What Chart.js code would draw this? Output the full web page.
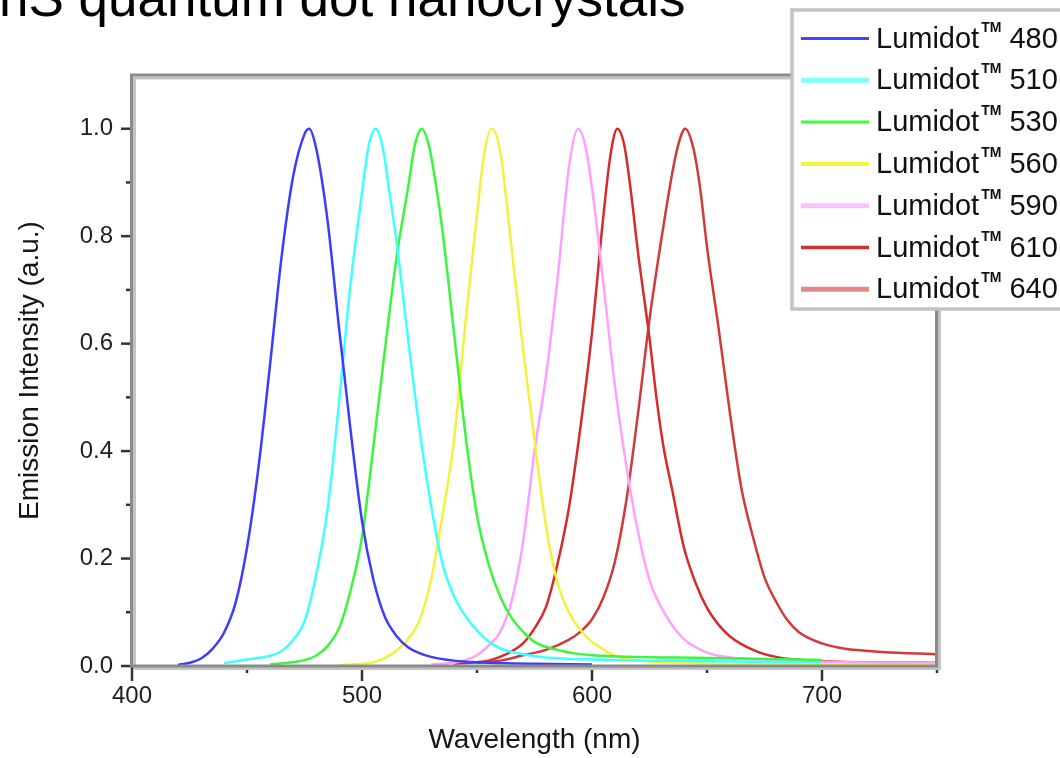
<!DOCTYPE html>
<html>
<head>
<meta charset="utf-8">
<title>Lumidot emission spectra</title>
<script src="https://cdn.jsdelivr.net/npm/chart.js@4.4.1/dist/chart.umd.min.js"></script>
<style>
  html, body { margin: 0; padding: 0; background: #fff; overflow: hidden; }
  #wrap { width: 1060px; height: 758px; position: relative; }
</style>
</head>
<body>
<div id="wrap"><canvas id="spectraChart"></canvas></div>
<script>
// Title (cropped on the left in the original picture)
const chartTitle = 'CdSe/ZnS quantum dot nanocrystals';
const xTitle = 'Wavelength (nm)';
const yTitle = 'Emission Intensity (a.u.)';

// Tick values
const xTicks = [400, 500, 600, 700];
const xMinorTicks = [450, 550, 650, 750];
const yTicks = [0, 0.2, 0.4, 0.6, 0.8, 1.0];
const yMinorTicks = [0.1, 0.3, 0.5, 0.7, 0.9];

// Series names
const seriesNames = ['Lumidot™ 480', 'Lumidot™ 510', 'Lumidot™ 530', 'Lumidot™ 560',
                     'Lumidot™ 590', 'Lumidot™ 610', 'Lumidot™ 640'];

// Emission spectra (wavelength nm / normalised intensity)
const wl480 = [420, 425, 430, 435, 440, 445, 450, 455, 460, 465, 470, 475, 477, 480, 485, 490, 495, 500, 505, 510, 515, 520, 525, 530, 540, 550, 575, 600];
const em480 = [0.002, 0.006, 0.014, 0.032, 0.062, 0.117, 0.22, 0.37, 0.56, 0.76, 0.91, 0.99, 1.0, 0.965, 0.83, 0.63, 0.44, 0.27, 0.16, 0.091, 0.056, 0.035, 0.024, 0.017, 0.010, 0.007, 0.004, 0.003];

const wl510 = [440, 450, 460, 465, 470, 475, 480, 485, 490, 495, 500, 503, 506, 509, 512, 515, 520, 525, 530, 535, 540, 545, 550, 555, 560, 570, 580, 600, 650, 700];
const em510 = [0.005, 0.012, 0.019, 0.028, 0.048, 0.083, 0.168, 0.29, 0.49, 0.71, 0.88, 0.97, 1.0, 0.965, 0.88, 0.79, 0.61, 0.44, 0.30, 0.19, 0.13, 0.093, 0.066, 0.046, 0.033, 0.022, 0.016, 0.012, 0.009, 0.007];

const wl530 = [460, 470, 475, 480, 485, 490, 495, 500, 505, 510, 515, 520, 523, 526, 529, 532, 535, 540, 545, 550, 555, 560, 565, 570, 575, 585, 600, 650, 700];
const em530 = [0.003, 0.007, 0.011, 0.019, 0.037, 0.07, 0.14, 0.24, 0.41, 0.59, 0.76, 0.89, 0.97, 1.0, 0.97, 0.90, 0.81, 0.62, 0.43, 0.28, 0.19, 0.13, 0.09, 0.064, 0.045, 0.03, 0.02, 0.015, 0.011];

const wl560 = [490, 500, 505, 510, 515, 520, 525, 530, 535, 540, 545, 550, 553, 556.5, 560, 565, 570, 575, 580, 585, 590, 595, 600, 605, 610, 620, 650, 700, 750];
const em560 = [0.002, 0.004, 0.007, 0.015, 0.029, 0.05, 0.085, 0.16, 0.28, 0.42, 0.64, 0.84, 0.95, 1.0, 0.96, 0.78, 0.59, 0.42, 0.26, 0.155, 0.10, 0.067, 0.045, 0.031, 0.019, 0.01, 0.005, 0.003, 0.002];

const wl590 = [530, 540, 545, 550, 555, 560, 565, 570, 575, 580, 585, 590, 594, 597, 600, 605, 610, 615, 620, 625, 630, 635, 640, 650, 660, 680, 700, 750];
const em590 = [0.003, 0.006, 0.011, 0.02, 0.038, 0.063, 0.12, 0.23, 0.40, 0.54, 0.72, 0.93, 1.0, 0.97, 0.89, 0.71, 0.52, 0.37, 0.25, 0.16, 0.11, 0.075, 0.05, 0.025, 0.016, 0.011, 0.008, 0.006];

const wl610 = [540, 550, 555, 560, 565, 570, 575, 580, 585, 590, 595, 600, 605, 608, 611, 614, 617, 620, 625, 628, 631, 635, 640, 645, 650, 655, 660, 670, 680, 700, 750];
const em610 = [0.004, 0.007, 0.01, 0.017, 0.027, 0.042, 0.07, 0.11, 0.19, 0.295, 0.445, 0.62, 0.84, 0.95, 1.0, 0.97, 0.88, 0.77, 0.61, 0.50, 0.41, 0.325, 0.22, 0.155, 0.108, 0.077, 0.055, 0.03, 0.017, 0.009, 0.006];

const wl640 = [550, 560, 570, 580, 590, 595, 600, 605, 610, 615, 620, 625, 630, 635, 637.5, 640.5, 644, 647, 650, 655, 660, 665, 670, 675, 680, 685, 690, 700, 710, 720, 735, 750];
const em640 = [0.006, 0.01, 0.02, 0.03, 0.049, 0.064, 0.087, 0.128, 0.195, 0.31, 0.47, 0.645, 0.79, 0.92, 0.97, 1.0, 0.965, 0.89, 0.78, 0.63, 0.47, 0.33, 0.24, 0.165, 0.12, 0.085, 0.063, 0.042, 0.032, 0.028, 0.024, 0.022];

const wavelengths = [wl480, wl510, wl530, wl560, wl590, wl610, wl640];
const intensities = [em480, em510, em530, em560, em590, em610, em640];

// Colours: curve colour, legend swatch colour, legend swatch width
const lineColors = ['#3c3cff', '#40ffff', '#3cf53c', '#f2f23c', '#ffa0ff', '#d42c2c', '#d23a3a'];
const swatchColors = ['#4444ff', '#80ffff', '#40ff40', '#f4f43c', '#ffc0ff', '#d03030', '#e08a8a'];
const swatchWidths = [3, 5, 3, 4, 5, 3.5, 5];

const FONT = '"Liberation Sans", Arial, Helvetica, sans-serif';
Chart.defaults.font.family = FONT;

// Plot frame and tick marks (major and minor)
const framePlugin = {
    id: 'frame',
    afterDatasetsDraw(chart) {
        const ctx = chart.ctx;
        const a = chart.chartArea;
        const x = chart.scales.x, y = chart.scales.y;
        ctx.save();
        function seg(x1, y1, x2, y2) {
            ctx.beginPath(); ctx.moveTo(x1, y1); ctx.lineTo(x2, y2); ctx.stroke();
        }
        ctx.strokeStyle = '#333';
        ctx.lineWidth = 2.5;
        yTicks.forEach(v => { const p = y.getPixelForValue(v); seg(a.left - 11, p, a.left, p); });
        yMinorTicks.forEach(v => { const p = y.getPixelForValue(v); seg(a.left - 6, p, a.left, p); });
        xTicks.forEach(v => { const p = x.getPixelForValue(v); seg(p, a.bottom, p, a.bottom + 15); });
        xMinorTicks.forEach(v => { const p = x.getPixelForValue(v); seg(p, a.bottom, p, a.bottom + 7); });

        // light "shadow" line then the dark frame
        ctx.lineWidth = 3;
        ctx.strokeStyle = '#c4c4c4';
        ctx.strokeRect(a.left + 2.5, a.top + 3, a.right - a.left, a.bottom - a.top - 0.5);
        ctx.strokeStyle = '#8a8a8a';
        ctx.strokeRect(a.left - 0.5, a.top, a.right - a.left, a.bottom - a.top);
        ctx.restore();
    }
};

// Boxed legend in the top right corner, partly outside the picture
const legendPlugin = {
    id: 'boxLegend',
    afterDraw(chart) {
        const ctx = chart.ctx;
        ctx.save();
        ctx.fillStyle = '#fff';
        ctx.fillRect(792, 10, 320, 299);
        ctx.strokeStyle = '#c2c2c2';
        ctx.lineWidth = 3.5;
        ctx.strokeRect(792, 10, 320, 299);
        chart.data.datasets.forEach((ds, i) => {
            const yy = 38.5 + i * 41.8;
            ctx.strokeStyle = swatchColors[i];
            ctx.lineWidth = swatchWidths[i];
            ctx.beginPath(); ctx.moveTo(801, yy); ctx.lineTo(869, yy); ctx.stroke();
            const parts = ds.label.split('™');
            ctx.fillStyle = '#111';
            ctx.textBaseline = 'alphabetic';
            ctx.font = '29px ' + FONT;
            ctx.fillText(parts[0], 876, yy + 9);
            let tx = 876 + ctx.measureText(parts[0]).width + 2;
            ctx.font = 'bold 14px ' + FONT;
            ctx.fillText('TM', tx, yy - 7);
            tx += ctx.measureText('TM').width + 8;
            ctx.font = '29px ' + FONT;
            ctx.fillText(parts[1].trim(), tx, yy + 9);
        });
        ctx.restore();
    }
};

// Large title cut by the left edge
const titlePlugin = {
    id: 'cropTitle',
    afterDraw(chart) {
        const ctx = chart.ctx;
        ctx.save();
        ctx.font = '53px ' + FONT;
        ctx.fillStyle = '#000';
        ctx.textBaseline = 'alphabetic';
        const hidden = ctx.measureText('CdSe/Z').width;
        ctx.fillText(chartTitle, -1 - hidden, 16);
        ctx.restore();
    }
};

const datasets = seriesNames.map((name, i) => ({
    label: name,
    data: wavelengths[i].map((w, j) => ({ x: w, y: intensities[i][j] })),
    borderColor: lineColors[i],
    backgroundColor: lineColors[i],
    borderWidth: 2.5,
    pointRadius: 0,
    fill: false,
    cubicInterpolationMode: 'monotone'
}));

const ctx = document.getElementById('spectraChart').getContext('2d');
const spectraChart = new Chart(ctx, {
    type: 'line',
    data: { datasets: datasets },
    options: {
        responsive: true,
        maintainAspectRatio: false,
        devicePixelRatio: 1,
        animation: false,
        layout: { padding: { left: 0, top: 75, right: 123, bottom: 0 } },
        plugins: {
            legend: { display: false },
            tooltip: { enabled: false }
        },
        scales: {
            x: {
                type: 'linear',
                min: 400,
                max: 750,
                afterBuildTicks: s => { s.ticks = xTicks.map(v => ({ value: v })); },
                afterFit: s => { s.height = 92; },
                grid: { display: true, drawOnChartArea: false, drawTicks: true, tickLength: 12, tickColor: 'rgba(0,0,0,0)' },
                border: { display: false },
                ticks: { padding: 4, color: '#1e1e1e', font: { size: 24 }, maxRotation: 0 },
                title: { display: true, text: xTitle, color: '#151515', font: { size: 28 }, padding: { top: 0, bottom: 1 } }
            },
            y: {
                min: 0,
                max: 1.1,
                afterBuildTicks: s => { s.ticks = yTicks.map(v => ({ value: v })); },
                afterFit: s => { s.width = 132; },
                grid: { display: true, drawOnChartArea: false, drawTicks: true, tickLength: 10, tickColor: 'rgba(0,0,0,0)' },
                border: { display: false },
                ticks: { padding: 9, color: '#1e1e1e', font: { size: 24 }, callback: v => v.toFixed(1) },
                title: { display: true, text: yTitle, color: '#151515', font: { size: 28 }, padding: { top: 13, bottom: 0 } }
            }
        }
    },
    plugins: [framePlugin, legendPlugin, titlePlugin]
});
</script>
</body>
</html>
